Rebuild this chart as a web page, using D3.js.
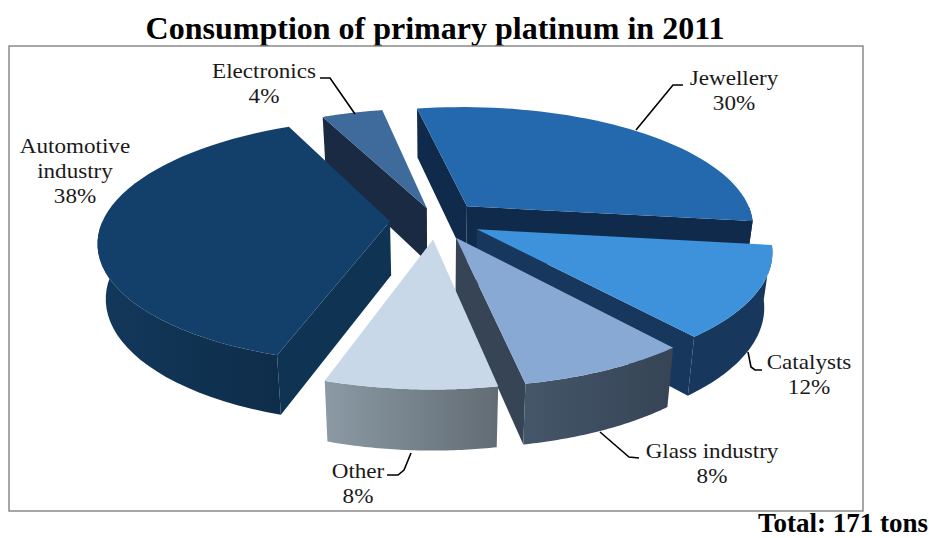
<!DOCTYPE html>
<html>
<head>
<meta charset="utf-8">
<script src="https://cdn.jsdelivr.net/npm/d3@7"></script>
<style>
  html, body { margin: 0; padding: 0; background: #fff; overflow: hidden; }
  svg { display: block; }
</style>
</head>
<body>
<div id="chart"></div>
<script>
// data, clockwise from the top of the pie
const categories = ["Jewellery", "Catalysts", "Glass industry", "Other", "Automotive industry", "Electronics"];
const shares = [30, 12, 8, 8, 38, 4];

const width = 929;
const height = 538;

// colours per slice: top face, cut wall, outer wall left/right
const topColors = ["#2469ad", "#3e92db", "#88a9d3", "#c8d8e9", "#12406b", "#3e6a9c"];
const wallColors = ["#0f2a4a", "#17385c", "#364455", "#5f6a72", "#0f3352", "#1a2a42"];
const rimLeft = ["#0f2a4a", "#17385c", "#445669", "#8b9aa5", "#12385a", "#1a2a42"];
const rimRight = ["#0f2a4a", "#17385c", "#364455", "#626c74", "#0e2d4a", "#1a2a42"];

// back slices first so the front ones paint over them
const drawOrder = [5, 0, 4, 1, 2, 3];

// camera for the tilted pie
const cx = 436, cy = 220, radius = 287, tilt = 0.415, camera = 1800, depth = 54;
// electronics sits a bit closer in than the others
const explodeFor = [46, 46, 46, 46, 46, 30];

const svg = d3.select("#chart")
  .append("svg")
  .attr("width", width)
  .attr("height", height)
  .attr("viewBox", [0, 0, width, height]);

const defs = svg.append("defs");

// Title
svg.append("text")
  .attr("x", 435)
  .attr("y", 39)
  .attr("text-anchor", "middle")
  .attr("font-family", "Liberation Serif")
  .attr("font-weight", "bold")
  .attr("font-size", "32px")
  .attr("fill", "#000")
  .text("Consumption of primary platinum in 2011");

// Plot border
svg.append("rect")
  .attr("x", 9)
  .attr("y", 46)
  .attr("width", 854)
  .attr("height", 465)
  .attr("fill", "#fff")
  .attr("stroke", "#898989")
  .attr("stroke-width", 1.5);

// z is negative below the top face; the bottom narrows a little towards the centre
function project(x, y, z) {
  const s = camera / (camera - y);
  return [cx + x * s * (1 + z * 0.00045), cy + y * tilt * s - z * Math.pow(s, 0.6)];
}

const slices = d3.pie()
  .sort(null)
  .startAngle(-10.8 * Math.PI / 180)
  .endAngle(349.2 * Math.PI / 180)(shares);

const line = d3.line();

drawOrder.forEach(i => {
  const d = slices[i];
  const mid = (d.startAngle + d.endAngle) / 2;
  const ox = explodeFor[i] * Math.sin(mid);
  const oy = -explodeFor[i] * Math.cos(mid);

  const rim = a => [ox + radius * Math.sin(a), oy - radius * Math.cos(a)];
  const at = (p, z) => project(p[0], p[1], z);

  const angles = d3.range(0, 49).map(k => d.startAngle + (d.endAngle - d.startAngle) * k / 48);
  const tip = [ox, oy];
  const g = svg.append("g");

  // cut walls, only the ones facing the viewer
  [d.startAngle, d.endAngle].forEach((a, k) => {
    const facing = k === 0 ? Math.sin(a) < 0 : Math.sin(a) > 0;
    if (!facing) return;
    const p = rim(a);
    g.append("path")
      .attr("d", line([at(tip, 0), at(p, 0), at(p, -depth), at(tip, -depth)]) + "Z")
      .attr("fill", wallColors[i]);
  });

  // outer wall, front half of the rim only
  const front = angles.filter(a => Math.cos(a) <= 0);
  if (front.length > 1) {
    const first = at(rim(front[0]), 0)[0];
    const last = at(rim(front[front.length - 1]), 0)[0];
    const id = `rim${i}`;
    const grad = defs.append("linearGradient")
      .attr("id", id)
      .attr("gradientUnits", "userSpaceOnUse")
      .attr("x1", Math.min(first, last))
      .attr("x2", Math.max(first, last))
      .attr("y1", 0)
      .attr("y2", 0);
    grad.append("stop").attr("offset", 0).attr("stop-color", rimLeft[i]);
    grad.append("stop").attr("offset", 1).attr("stop-color", rimRight[i]);

    const upper = front.map(a => at(rim(a), 0));
    const lower = front.map(a => at(rim(a), -depth)).reverse();
    g.append("path")
      .attr("d", line(upper.concat(lower)) + "Z")
      .attr("fill", `url(#${id})`);
  }

  // top face
  g.append("path")
    .attr("d", line([at(tip, 0)].concat(angles.map(a => at(rim(a), 0)))) + "Z")
    .attr("fill", topColors[i]);
});

// Leader lines
const leaders = [
  [[636, 130], [673, 85], [683, 85]],
  [[748, 352], [751, 367], [755, 370], [762, 370]],
  [[600, 432], [629, 457], [639, 458]],
  [[411, 453], [404, 470], [398, 475], [387, 475]],
  null,
  [[355, 114], [330, 78], [320, 78]]
];

leaders.forEach(pts => {
  if (!pts) return;
  svg.append("path")
    .attr("d", line(pts))
    .attr("fill", "none")
    .attr("stroke", "#000")
    .attr("stroke-width", 1.6);
});

// Labels: one entry per slice, name lines then the share
const labelLines = [["Jewellery"], ["Catalysts"], ["Glass industry"], ["Other"], ["Automotive", "industry"], ["Electronics"]];
const labelX = [734, 809, 712, 358, 75, 264];
const labelY = [85, 369, 458, 478, 153, 78];

labelLines.forEach((lines, i) => {
  lines.concat(`${shares[i]}%`).forEach((t, k) => {
    // the source text is slightly wider than the font, hence the x stretch
    svg.append("text")
      .attr("transform", `translate(${labelX[i]},${labelY[i] + k * 25}) scale(1.1,1)`)
      .attr("text-anchor", "middle")
      .attr("font-family", "Liberation Serif")
      .attr("font-size", "21px")
      .attr("fill", "#1a1a1a")
      .text(t);
  });
});

// Total
svg.append("text")
  .attr("x", 928)
  .attr("y", 532)
  .attr("text-anchor", "end")
  .attr("font-family", "Liberation Serif")
  .attr("font-weight", "bold")
  .attr("font-size", "27px")
  .attr("fill", "#000")
  .text("Total: 171 tons");
</script>
</body>
</html>
